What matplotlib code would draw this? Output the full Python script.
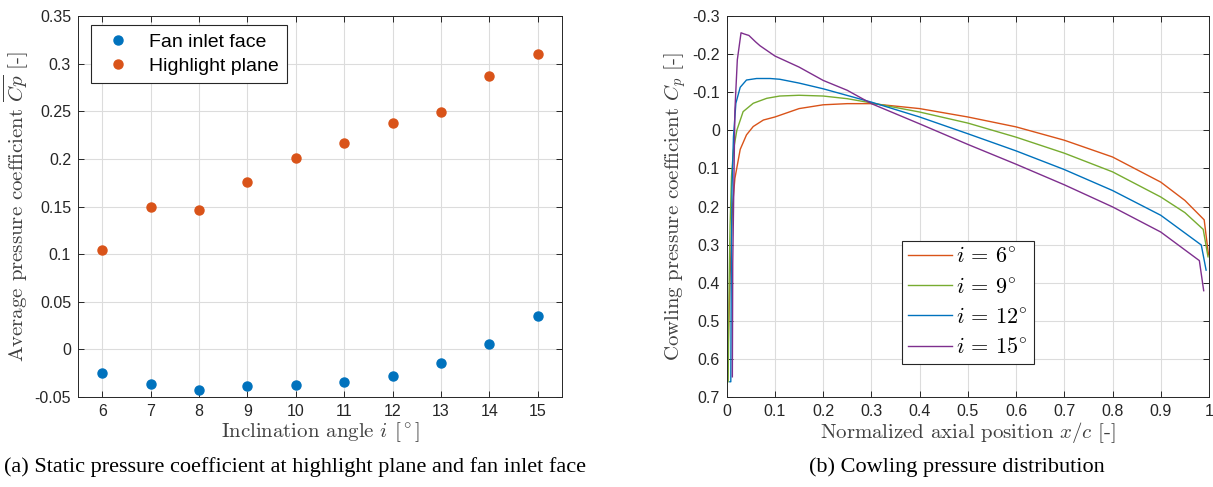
import numpy as np
import matplotlib.pyplot as plt
from matplotlib.ticker import FuncFormatter

plt.rcParams["mathtext.fontset"] = "cm"
plt.rcParams["font.family"] = ["Liberation Sans", "DejaVu Sans"]

# (a) averaged Cp vs inclination angle
incl = [6, 7, 8, 9, 10, 11, 12, 13, 14, 15]
cp_fan = [-0.0245, -0.036, -0.0423, -0.038, -0.0378, -0.0343, -0.0283, -0.014, 0.006, 0.0354]
cp_hl = [0.1047, 0.1498, 0.1463, 0.1761, 0.2009, 0.2163, 0.238, 0.2496, 0.2874, 0.3105]

# (b) cowling Cp along x/c for each inclination
x6 = [0.0, 0.0014, 0.004, 0.007, 0.012, 0.017, 0.028, 0.041, 0.055, 0.076, 0.1,
      0.15, 0.2, 0.25, 0.3, 0.4, 0.5, 0.6, 0.7, 0.8, 0.9, 0.95, 0.99, 0.999]
cp6 = [0.58, 0.66, 0.52, 0.384, 0.2, 0.126, 0.05, 0.012, -0.01, -0.027, -0.035,
       -0.057, -0.067, -0.07, -0.07, -0.057, -0.035, -0.009, 0.026, 0.07, 0.136, 0.184, 0.235, 0.327]
x9 = [0.003, 0.005, 0.007, 0.01, 0.014, 0.021, 0.034, 0.055, 0.083, 0.11, 0.15, 0.2,
      0.25, 0.3, 0.4, 0.5, 0.6, 0.7, 0.8, 0.9, 0.95, 0.988, 0.998]
cp9 = [0.66, 0.4, 0.25, 0.12, 0.052, 0.0, -0.049, -0.071, -0.084, -0.09, -0.092, -0.09,
       -0.083, -0.072, -0.048, -0.019, 0.018, 0.06, 0.109, 0.175, 0.216, 0.26, 0.332]
x12 = [0.0065, 0.0085, 0.0095, 0.011, 0.014, 0.019, 0.028, 0.041, 0.062, 0.09, 0.11,
       0.15, 0.2, 0.3, 0.4, 0.5, 0.6, 0.7, 0.8, 0.9, 0.984, 0.994]
cp12 = [0.66, 0.66, 0.37, 0.15, 0.017, -0.071, -0.113, -0.132, -0.136, -0.136, -0.134,
        -0.124, -0.109, -0.074, -0.035, 0.009, 0.054, 0.103, 0.158, 0.223, 0.301, 0.367]
x15 = [0.0117, 0.0125, 0.017, 0.022, 0.0297, 0.036, 0.046, 0.06, 0.069, 0.1, 0.15, 0.2,
       0.25, 0.3, 0.4, 0.5, 0.6, 0.7, 0.8, 0.9, 0.98, 0.989]
cp15 = [0.647, 0.35, -0.053, -0.185, -0.256, -0.253, -0.249, -0.232, -0.222, -0.195, -0.166, -0.131,
        -0.105, -0.07, -0.017, 0.037, 0.089, 0.143, 0.201, 0.267, 0.342, 0.421]

blue = "#0072BD"
orange = "#D95319"
green = "#77AC30"
purple = "#7E2F8E"
axc = "#262626"
serif = ["cmr10", "DejaVu Serif"]


def fmt(v, pos):
    return ("%g" % round(v, 4)).replace("\u2212", "-")


def style(ax):
    ax.grid(True, color="#dcdcdc", lw=0.8)
    ax.set_axisbelow(True)
    for s in ax.spines.values():
        s.set_color(axc)
        s.set_linewidth(0.7)
    ax.tick_params(direction="in", length=4, width=0.7, colors=axc,
                   top=True, right=True, labelsize=11.5, pad=5)
    ax.xaxis.set_major_formatter(FuncFormatter(fmt))
    ax.yaxis.set_major_formatter(FuncFormatter(fmt))


fig = plt.figure(figsize=(12.13, 4.87), dpi=100)

ax1 = fig.add_axes([0.0643, 0.1848, 0.399, 0.7823])
ax1.plot(incl, cp_fan, "o", color=blue, ms=6.5, label="Fan inlet face")
ax1.plot(incl, cp_hl, "o", color=orange, ms=6.5, label="Highlight plane")
ax1.set_xlim(5.5, 15.5)
ax1.set_ylim(-0.05, 0.35)
ax1.set_xticks(range(6, 16))
ax1.set_yticks(np.arange(-0.05, 0.351, 0.05))
style(ax1)
ax1.set_xlabel(r"Inclination angle $i$ $[^\circ]$", fontsize=15, family=serif,
               color="#404040", labelpad=1)
ax1.set_ylabel(r"Average pressure coefficient $\overline{Cp}$ [-]", fontsize=15,
               family=serif, color="#404040", labelpad=3)
leg1 = ax1.legend(loc="upper left", bbox_to_anchor=(0.027, 0.976), borderaxespad=0,
                  fontsize=14, fancybox=False, edgecolor=axc, framealpha=1,
                  handletextpad=0.6, borderpad=0.4, labelspacing=0.35, handlelength=2.0)
leg1.get_frame().set_linewidth(0.8)

ax2 = fig.add_axes([0.5991, 0.1848, 0.3976, 0.7823])
ax2.plot(x6, cp6, color=orange, lw=1.0, label=r"$i\, =\, 6^{\!\circ}$")
ax2.plot(x9, cp9, color=green, lw=1.0, label=r"$i\, =\, 9^{\!\circ}$")
ax2.plot(x12, cp12, color=blue, lw=1.0, label=r"$i\, =\, 12^{\!\circ}$")
ax2.plot(x15, cp15, color=purple, lw=1.0, label=r"$i\, =\, 15^{\!\circ}$")
ax2.set_xlim(0, 1)
ax2.set_ylim(0.7, -0.3)
ax2.set_xticks(np.arange(0, 1.01, 0.1))
ax2.set_yticks(np.arange(-0.3, 0.71, 0.1))
style(ax2)
ax2.set_xlabel(r"Normalized axial position $x/c$ [-]", fontsize=15, family=serif,
               color="#404040", labelpad=1)
ax2.set_ylabel(r"Cowling pressure coefficient $C_p$ [-]", fontsize=15, family=serif,
               color="#404040", labelpad=3)
leg2 = ax2.legend(loc="upper left", bbox_to_anchor=(0.3635, 0.41), borderaxespad=0,
                  fontsize=16, fancybox=False, edgecolor=axc, framealpha=1,
                  handletextpad=0.2, borderpad=0.25, labelspacing=0.42, handlelength=2.0)
leg2.get_frame().set_linewidth(0.8)

fig.text(295 / 1213, 20 / 487, "(a) Static pressure coefficient at highlight plane and fan inlet face",
         ha="center", va="center", fontsize=16, family=["Liberation Serif"])
fig.text(957 / 1213, 20 / 487, "(b) Cowling pressure distribution",
         ha="center", va="center", fontsize=16, family=["Liberation Serif"])

fig.savefig("out.png", dpi=100)
